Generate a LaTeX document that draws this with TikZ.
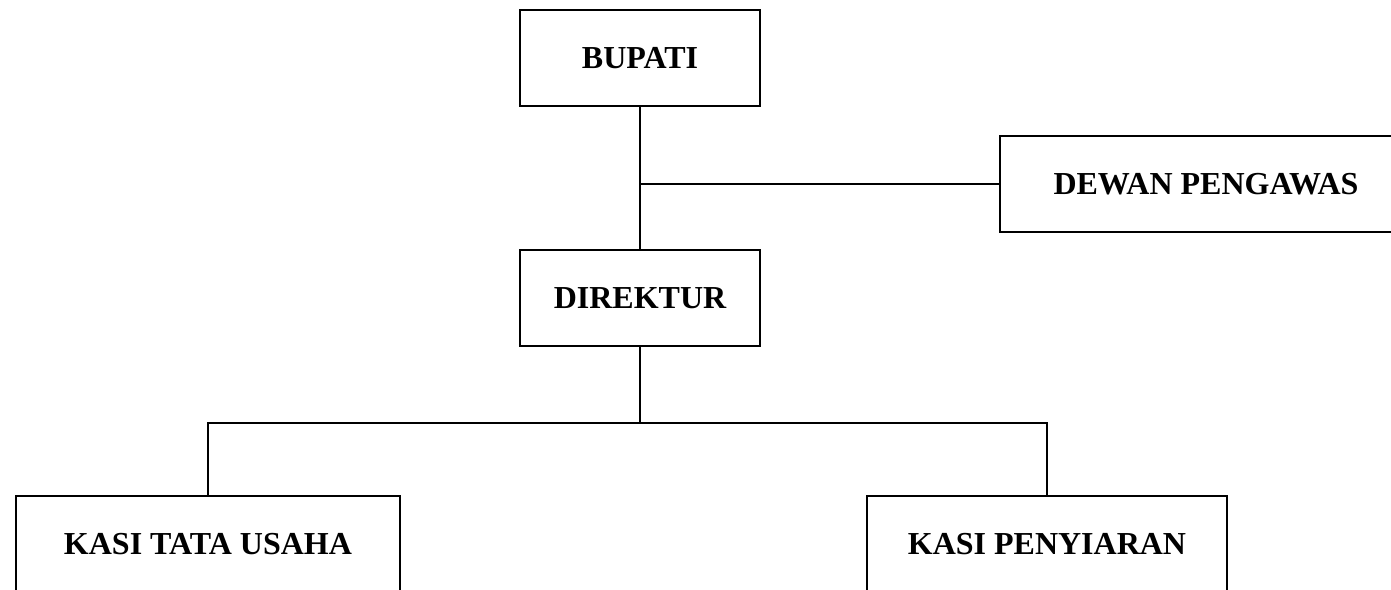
\documentclass[tikz,border=0pt]{standalone}
\usepackage{fontspec}
\setmainfont{Liberation Serif}
\usetikzlibrary{positioning}

\begin{document}
\begin{tikzpicture}[x=0.5pt,y=-0.5pt,line width=1pt,
  jabatan/.style={draw,line width=1pt,minimum height=48pt,inner sep=0pt,
    font=\bfseries\fontsize{16}{19}\selectfont}]
\clip(0,0)rectangle(1391,589);
\node[jabatan,minimum width=120pt](bupati)at(640,58){BUPATI};
\node[jabatan,minimum width=206pt](dewan)at(1206,184){DEWAN PENGAWAS};
\node[jabatan,minimum width=120pt](direktur)at(640,298){DIREKTUR};
\node[jabatan,minimum width=192pt](tatausaha)at(208,544){KASI TATA USAHA};
\node[jabatan,minimum width=180pt](penyiaran)at(1047,544){KASI PENYIARAN};
\coordinate(cabang)at(bupati.south|-dewan.west);
\coordinate(bagi)at(640,423);
\draw(bupati)--(direktur)(cabang)--(dewan);
\draw(direktur)--(bagi);
\draw(tatausaha.north)|-(bagi)-|(penyiaran.north);
\end{tikzpicture}
\end{document}
